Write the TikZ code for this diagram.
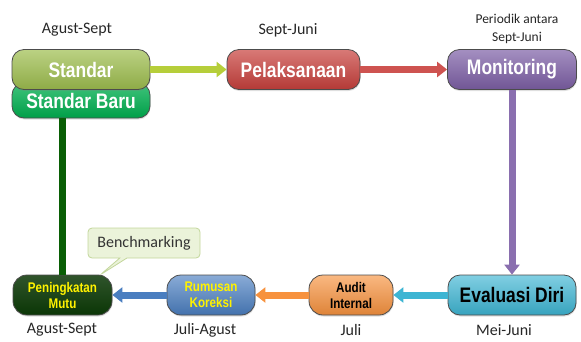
\documentclass[tikz,border=0pt]{standalone}
\usepackage{fontspec}
\setmainfont{Carlito}
\newfontfamily\boxfont[FakeStretch=0.83]{Liberation Sans}
\usetikzlibrary{arrows.meta,shadows,shapes.callouts}
\definecolor{olivegreen}{HTML}{9EBE4E}
\definecolor{newgreen}{HTML}{00B050}
\definecolor{pelred}{HTML}{C8403C}
\definecolor{monpurple}{HTML}{7D5FA6}
\definecolor{evalcyan}{HTML}{3DB5D3}
\definecolor{auditorange}{HTML}{F7923E}
\definecolor{rumusblue}{HTML}{4A7EC0}
\definecolor{mutugreen}{HTML}{0B3606}
\definecolor{notefill}{HTML}{EBF3DA}
\definecolor{notedraw}{HTML}{C3D69B}
\tikzstyle{box}=[rounded corners=12pt,draw=black!70,line width=0.8pt,inner sep=0,
                 minimum height=40pt,align=center,text=white,
                 font=\boxfont\bfseries\fontsize{21}{22}\selectfont,
                 drop shadow={opacity=0.25,shadow xshift=0.5pt,shadow yshift=-1.5pt}]
\tikzstyle{smallbox}=[box,rounded corners=14pt,font=\boxfont\bfseries\fontsize{14}{16}\selectfont]
\tikzstyle{flow}=[line width=7pt,-{Triangle[length=10pt,width=15pt]}]
\tikzstyle{period}=[font=\fontsize{16}{18}\selectfont,text=black!85]
\tikzstyle{note}=[rectangle callout,rounded corners=4pt,fill=notefill,draw=notedraw,line width=0.8pt,
                  minimum width=112pt,minimum height=30pt,font=\fontsize{16}{18}\selectfont,text=black!80]

\begin{document}
\begin{tikzpicture}[x=1pt,y=-1pt]
  \def\yt{69.5}  % top row
  \def\yb{295}   % bottom row
  \useasboundingbox (0,0) rectangle (581,341);

  % TOP ROW
  \node[box,minimum width=138pt,minimum height=35pt,top color=newgreen!75!white,bottom color=newgreen!90!black] (baru) at (81,100.5) {Standar Baru};
  \node[box,minimum width=138pt,top color=olivegreen!70!white,bottom color=olivegreen!90!black] (std) at (81,\yt) {Standar};
  \node[box,minimum width=133pt,top color=pelred!70!white,bottom color=pelred!90!black] (pel) at (293.5,\yt) {Pelaksanaan};
  \node[box,minimum width=129pt,top color=monpurple!70!white,bottom color=monpurple!90!black] (mon) at (512,\yt) {Monitoring};

  % BOTTOM ROW
  \node[box,minimum width=128pt,text=black,top color=evalcyan!65!white,bottom color=evalcyan!90!black] (eval) at (512,\yb) {Evaluasi Diri};
  \node[smallbox,minimum width=84pt,text=black,top color=auditorange!65!white,bottom color=auditorange!90!black] (audit) at (351,\yb) {Audit\\Internal};
  \node[smallbox,minimum width=88pt,text=yellow,top color=rumusblue!65!white,bottom color=rumusblue!90!black] (rumus) at (211,\yb) {Rumusan\\Koreksi};
  \node[smallbox,minimum width=99pt,text=yellow,top color=mutugreen!85!white,bottom color=mutugreen] (peng) at (62.5,\yb) {Peningkatan\\Mutu};

  % PERIODS
  \node[period] (tStd) at (77,30) {Agust-Sept};
  \node[period] (tPel) at (288,30) {Sept-Juni};
  \node[period,align=center,font=\fontsize{13.5}{18}\selectfont] (tMon) at (517,29) {Periodik antara\\Sept-Juni};
  \node[period] (tPeng) at (62,330) {Agust-Sept};
  \node[period] (tRum) at (205,330) {Juli-Agust};
  \node[period] (tAud) at (351,330) {Juli};
  \node[period] (tEval) at (504,330) {Mei-Juni};

  % NOTE
  \coordinate (tip) at (100,275);
  \node[note,callout absolute pointer={(tip)}] (bench) at (144,243) {Benchmarking};

  % ARROWS
  \draw[flow,olivegreen!75!yellow] (std) -- (pel);
  \draw[flow,pelred!90!white] (pel) -- (mon);
  \draw[flow,monpurple!90!white] (mon) -- (eval);
  \draw[flow,evalcyan] (eval) -- (audit);
  \draw[flow,auditorange] (audit) -- (rumus);
  \draw[flow,rumusblue] (rumus) -- (peng);
  \draw[line width=7pt,mutugreen!80!green] (peng.north) -- (peng.north |- baru.south);

\end{tikzpicture}
\end{document}
